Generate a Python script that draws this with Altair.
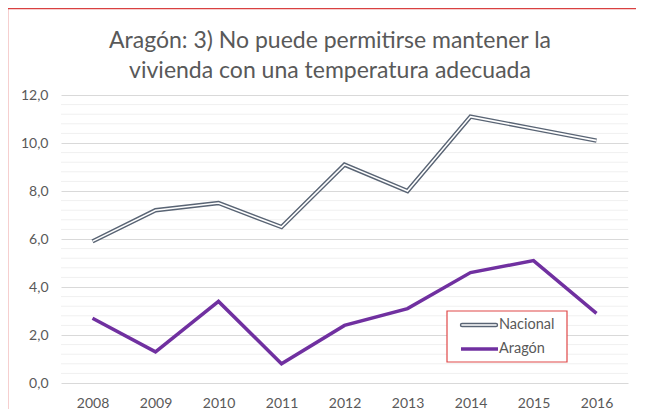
import altair as alt
import pandas as pd

years = ["2008", "2009", "2010", "2011", "2012", "2013", "2014", "2015", "2016"]
nacional = [5.9, 7.2, 7.5, 6.5, 9.1, 8.0, 11.1, 10.6, 10.1]
aragon = [2.7, 1.3, 3.4, 0.8, 2.4, 3.1, 4.6, 5.1, 2.9]
series_names = ["Nacional", "Aragón"]
major_ticks = [0, 2, 4, 6, 8, 10, 12]
minor_ticks = [0.4, 0.8, 1.2, 1.6, 2.4, 2.8, 3.2, 3.6, 4.4, 4.8, 5.2, 5.6,
               6.4, 6.8, 7.2, 7.6, 8.4, 8.8, 9.2, 9.6, 10.4, 10.8, 11.2, 11.6]
title_lines = ["Aragón: 3) No puede permitirse mantener la",
               "vivienda con una temperatura adecuada"]

W, H = 567, 288
FONT = "Lato"
GREY_TXT = "#595959"

df_nac = pd.DataFrame({"year": years, "value": nacional})
df_ara = pd.DataFrame({"year": years, "value": aragon})
df_minor = pd.DataFrame({"value": minor_ticks})
one = pd.DataFrame({"k": [0]})

y_scale = alt.Scale(domain=[0, 12], nice=False, zero=True)
x_scale = alt.Scale(type="point", padding=0.5)
y_axis = alt.Axis(values=major_ticks, title=None,
                  labelExpr="replace(format(datum.value, '.1f'), '.', ',')")
x_axis = alt.Axis(title=None)

X = alt.X("year:O", scale=x_scale, axis=x_axis, sort=years)
Y = alt.Y("value:Q", scale=y_scale, axis=y_axis)

minor = alt.Chart(df_minor).mark_rule(color="#f0f0f0", strokeWidth=1).encode(
    y=Y, x=alt.value(0), x2=alt.value(W)
)

nac_outer = alt.Chart(df_nac).mark_line(color="#596474", strokeWidth=4.4).encode(x=X, y=Y)
nac_inner = alt.Chart(df_nac).mark_line(color="#ffffff", strokeWidth=1.6).encode(x=X, y=Y)
ara = alt.Chart(df_ara).mark_line(color="#7030a0", strokeWidth=3.5).encode(x=X, y=Y)

# legend box
LX0, LX1, LY0, LY1 = 386, 506, 216, 267
leg_box = alt.Chart(one).mark_rect(fill="white", stroke="#e04848", strokeWidth=1.2).encode(
    x=alt.value(LX0), x2=alt.value(LX1), y=alt.value(LY0), y2=alt.value(LY1)
)
leg_nac_o = alt.Chart(one).mark_rule(color="#596474", strokeWidth=4.4, strokeCap="round").encode(
    x=alt.value(401), x2=alt.value(435), y=alt.value(230)
)
leg_nac_i = alt.Chart(one).mark_rule(color="#ffffff", strokeWidth=1.6, strokeCap="round").encode(
    x=alt.value(401), x2=alt.value(435), y=alt.value(230)
)
leg_ara = alt.Chart(one).mark_rule(color="#7030a0", strokeWidth=3.5).encode(
    x=alt.value(400), x2=alt.value(437), y=alt.value(254)
)
leg_txt_n = alt.Chart(one).mark_text(text=series_names[0], align="left", baseline="middle",
                                     font=FONT, fontSize=14.5, color=GREY_TXT).encode(
    x=alt.value(438), y=alt.value(230)
)
leg_txt_a = alt.Chart(one).mark_text(text=series_names[1], align="left", baseline="middle",
                                     font=FONT, fontSize=14.5, color=GREY_TXT).encode(
    x=alt.value(438), y=alt.value(254)
)

title1 = alt.Chart(one).mark_text(text=title_lines[0], align="center", baseline="middle",
                                  font=FONT, fontSize=23, color=GREY_TXT).encode(
    x=alt.value(269), y=alt.value(-54)
)
title2 = alt.Chart(one).mark_text(text=title_lines[1], align="center", baseline="middle",
                                  font=FONT, fontSize=23, color=GREY_TXT).encode(
    x=alt.value(269), y=alt.value(-24)
)

border = alt.Chart(one).mark_rect(fill=None, stroke="#d94040", strokeWidth=1.5).encode(
    x=alt.value(-53.5), x2=alt.value(W + 60), y=alt.value(-86.5), y2=alt.value(H + 60)
)

chart = alt.layer(
    minor, nac_outer, nac_inner, ara,
    leg_box, leg_nac_o, leg_nac_i, leg_ara, leg_txt_n, leg_txt_a,
    title1, title2, border
).properties(
    width=W, height=H,
    autosize=alt.AutoSizeParams(type="none"),
    padding={"left": 53, "top": 87, "right": 8, "bottom": 26},
).configure_view(stroke=None).configure_axis(
    domain=False, ticks=False, labelFont=FONT, labelFontSize=14, labelColor=GREY_TXT,
    gridColor="#d9d9d9", gridWidth=1
).configure_axisX(grid=False, labelPadding=13, labelAngle=0).configure_axisY(
    labelPadding=13
)

chart.save("out.html", embed_options={"renderer": "svg", "actions": False})
